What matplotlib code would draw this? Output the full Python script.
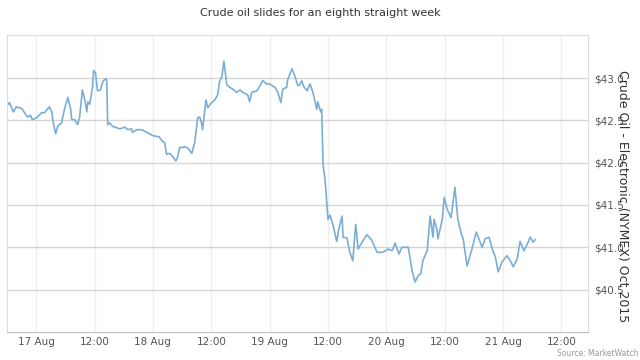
import matplotlib
matplotlib.use("Agg")
import matplotlib.pyplot as plt
import pandas as pd

# hours after 17 Aug 2015 00:00, and price in $
hours = [-6.1, -5.5, -4.7, -4.1, -3.0, -2.4, -1.8, -1.2, -0.8, 0.1,
         1.1, 1.7, 2.1, 2.7, 3.2, 3.4, 4.0, 4.4, 5.2, 5.8,
         6.5, 7.1, 7.3, 7.9, 8.5, 8.9, 9.5, 10.0, 10.4, 10.6,
         11.0, 11.6, 11.8, 12.2, 12.6, 13.2, 13.7, 14.3, 14.5, 14.7,
         15.1, 15.7, 17.2, 18.2, 18.8, 19.6, 19.8, 20.7, 21.7, 22.7,
         24.0, 24.8, 25.2, 26.0, 26.4, 26.8, 27.5, 28.1, 28.7, 29.1,
         29.5, 30.1, 30.5, 31.2, 32.0, 32.6, 33.2, 33.6, 34.0, 34.2,
         34.9, 35.3, 35.9, 36.7, 37.3, 37.7, 38.2, 38.6, 39.2, 39.8,
         40.4, 41.2, 41.9, 42.5, 43.5, 43.9, 44.3, 45.4, 46.6, 47.4,
         48.0, 49.1, 49.7, 50.3, 50.7, 51.5, 51.7, 52.6, 53.2, 53.8,
         54.2, 54.6, 55.0, 55.7, 56.3, 56.9, 57.7, 57.9, 58.5, 58.7,
         59.0, 59.4, 59.8, 60.0, 60.4, 61.0, 61.8, 62.2, 62.9, 63.1,
         63.9, 64.5, 65.1, 65.7, 66.2, 67.0, 68.0, 68.8, 69.2, 70.1,
         71.1, 71.9, 72.3, 73.2, 73.8, 74.6, 75.2, 75.8, 76.5, 77.3,
         77.9, 78.5, 79.1, 79.5, 80.4, 81.0, 81.6, 81.8, 82.4, 82.6,
         83.5, 83.9, 84.5, 85.3, 86.1, 86.7, 87.4, 87.8, 88.6, 89.6,
         90.5, 91.7, 92.3, 93.1, 94.0, 94.4, 95.0, 95.8, 96.8, 97.5,
         98.1, 98.9, 99.5, 100.3, 101.0, 101.6, 102.2, 102.6]
prices = [42.67, 42.71, 42.60, 42.66, 42.64, 42.59, 42.54, 42.56, 42.51, 42.53,
          42.59, 42.59, 42.62, 42.66, 42.60, 42.51, 42.34, 42.43, 42.47, 42.63,
          42.77, 42.63, 42.51, 42.51, 42.45, 42.53, 42.86, 42.74, 42.60, 42.72,
          42.69, 42.90, 43.09, 43.06, 42.85, 42.86, 42.96, 42.99, 42.98, 42.45,
          42.47, 42.43, 42.40, 42.42, 42.39, 42.40, 42.36, 42.39, 42.39, 42.36,
          42.32, 42.31, 42.31, 42.25, 42.24, 42.10, 42.11, 42.07, 42.02, 42.07,
          42.18, 42.18, 42.19, 42.17, 42.11, 42.24, 42.53, 42.54, 42.47, 42.39,
          42.74, 42.65, 42.70, 42.74, 42.80, 42.96, 43.02, 43.20, 42.92, 42.89,
          42.87, 42.83, 42.86, 42.83, 42.80, 42.72, 42.83, 42.85, 42.97, 42.93,
          42.93, 42.89, 42.83, 42.71, 42.87, 42.89, 42.98, 43.11, 43.02, 42.91,
          42.92, 42.97, 42.90, 42.85, 42.93, 42.83, 42.63, 42.72, 42.60, 42.63,
          41.96, 41.80, 41.49, 41.33, 41.38, 41.27, 41.07, 41.21, 41.37, 41.12,
          41.11, 40.94, 40.84, 41.27, 40.98, 41.06, 41.15, 41.10, 41.06, 40.94,
          40.94, 40.96, 40.98, 40.96, 41.05, 40.92, 41.00, 41.00, 41.00, 40.72,
          40.59, 40.66, 40.69, 40.84, 40.96, 41.37, 41.12, 41.33, 41.21, 41.10,
          41.33, 41.59, 41.45, 41.35, 41.71, 41.33, 41.16, 41.10, 40.78, 40.98,
          41.18, 41.00, 41.10, 41.12, 40.94, 40.89, 40.71, 40.83, 40.90, 40.84,
          40.77, 40.86, 41.07, 40.96, 41.04, 41.12, 41.06, 41.09]

x_labels = ["17 Aug", "12:00", "18 Aug", "12:00", "19 Aug", "12:00",
            "20 Aug", "12:00", "21 Aug", "12:00"]
y_ticks = [40.5, 41.0, 41.5, 42.0, 42.5, 43.0]

base = pd.Timestamp("2015-08-17")
times = base + pd.to_timedelta(hours, unit="h")
tick_times = [base + pd.Timedelta(hours=12 * i) for i in range(len(x_labels))]

fig = plt.figure(figsize=(6.4, 3.6), dpi=100)
ax = fig.add_axes([0.011, 0.078, 0.908, 0.825])

ax.plot(times, prices, color="#7aaed6", lw=1.2)

ax.set_xlim(base - pd.Timedelta(hours=6), base + pd.Timedelta(hours=113.5))
ax.set_ylim(40.0, 43.51)

ax.set_xticks(tick_times)
ax.set_xticklabels(x_labels)
ax.set_yticks(y_ticks)
ax.set_yticklabels(["$%.1f" % v for v in y_ticks])
ax.yaxis.tick_right()

ax.tick_params(axis="x", length=0, pad=4, labelsize=7.5, labelcolor="#555555")
ax.tick_params(axis="y", length=0, pad=4, labelsize=7.5, labelcolor="#555555")

ax.grid(axis="y", color="#d6d6d6", lw=1)
ax.grid(axis="x", color="#eeeeee", lw=1)
ax.set_axisbelow(True)
for s in ["top", "left", "right"]:
    ax.spines[s].set_color("#dddddd")
ax.spines["bottom"].set_color("#c0c0c0")

fig.text(0.5, 0.963, "Crude oil slides for an eighth straight week",
         ha="center", va="center", fontsize=8, color="#333333")
# axis title sits on top of the tick labels, as in the original
fig.text(0.972, 0.456, "Crude Oil - Electronic (NYMEX) Oct 2015",
         ha="center", va="center", rotation=270, fontsize=9, color="#333333")
fig.text(0.997, 0.017, "Source: MarketWatch", ha="right", va="center",
         fontsize=5.5, color="#999999")

fig.savefig("out.png", dpi=100)
